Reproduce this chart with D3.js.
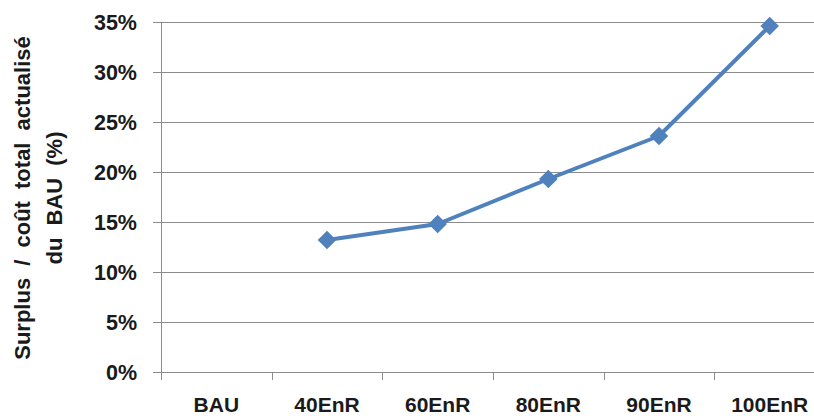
<!DOCTYPE html>
<html><head><meta charset="utf-8">
<script src="https://cdn.jsdelivr.net/npm/d3@7"></script>
<style>body{margin:0;background:#fff}svg{display:block}</style>
</head><body>
<svg id="c" width="814" height="419"></svg>
<script>
const categories = ["BAU","40EnR","60EnR","80EnR","90EnR","100EnR"];
const values = [null, 0.132, 0.148, 0.193, 0.236, 0.346];
const yTicks = [0,0.05,0.10,0.15,0.20,0.25,0.30,0.35];
const yTitle = ["Surplus / coût total actualisé","du BAU (%)"];

(function(){
const svg = d3.select("#c");
const font = "'Liberation Sans Narrow','Arial Narrow','Liberation Sans',sans-serif";
const pL = 161, pT = 22, pB = 372, pR = 825;
const x = d3.scaleBand().domain(categories).range([pL, pR]);
const y = d3.scaleLinear().domain([0,0.35]).range([pB, pT]);

svg.append("g").selectAll("line").data(yTicks).join("line")
  .attr("x1", pL-8).attr("x2", 814)
  .attr("y1", d=>Math.round(y(d))+0.5).attr("y2", d=>Math.round(y(d))+0.5)
  .attr("stroke", "#8c8c8c").attr("stroke-width", 1);

svg.append("line").attr("x1", pL+0.5).attr("x2", pL+0.5)
  .attr("y1", pT).attr("y2", pB+8).attr("stroke","#8c8c8c");

const edges = categories.map(c=>x(c));
svg.append("g").selectAll("line").data(edges).join("line")
  .attr("x1", d=>Math.round(d)+0.5).attr("x2", d=>Math.round(d)+0.5)
  .attr("y1", pB).attr("y2", pB+8).attr("stroke","#8c8c8c");

svg.append("g").selectAll("text").data(yTicks).join("text")
  .attr("x", 137).attr("y", d=>y(d)).attr("dy","0.35em")
  .attr("text-anchor","end").attr("font-family",font).attr("font-weight","bold")
  .attr("font-size",21.5).attr("fill","#1a1a1a")
  .text(d=>d3.format(".0%")(d));

svg.append("g").selectAll("text").data(categories).join("text")
  .attr("x", d=>x(d)+x.bandwidth()/2).attr("y", 412)
  .attr("text-anchor","middle").attr("font-family",font).attr("font-weight","bold")
  .attr("font-size",21).attr("fill","#1a1a1a")
  .text(d=>d);

const t = svg.append("text").attr("transform","translate(0,198) rotate(-90)")
  .attr("text-anchor","middle").attr("font-family",font).attr("font-weight","bold")
  .attr("font-size",22).attr("word-spacing",6).attr("fill","#1a1a1a");
yTitle.forEach((s,i)=>t.append("tspan").attr("x",0).attr("y", 30 + i*32).text(s));

const pts = categories.map((c,i)=>({c, v: values[i]})).filter(d=>d.v!=null);
svg.append("path").datum(pts)
  .attr("d", d3.line().x(d=>x(d.c)+x.bandwidth()/2).y(d=>y(d.v)))
  .attr("fill","none").attr("stroke","#4F81BD").attr("stroke-width",4)
  .attr("stroke-linejoin","round");

svg.append("g").selectAll("path").data(pts).join("path")
  .attr("transform", d=>`translate(${x(d.c)+x.bandwidth()/2},${y(d.v)})`)
  .attr("d", d3.symbol(d3.symbolDiamond2, 220)())
  .attr("fill","#4F81BD");
})();
</script>
</body></html>
